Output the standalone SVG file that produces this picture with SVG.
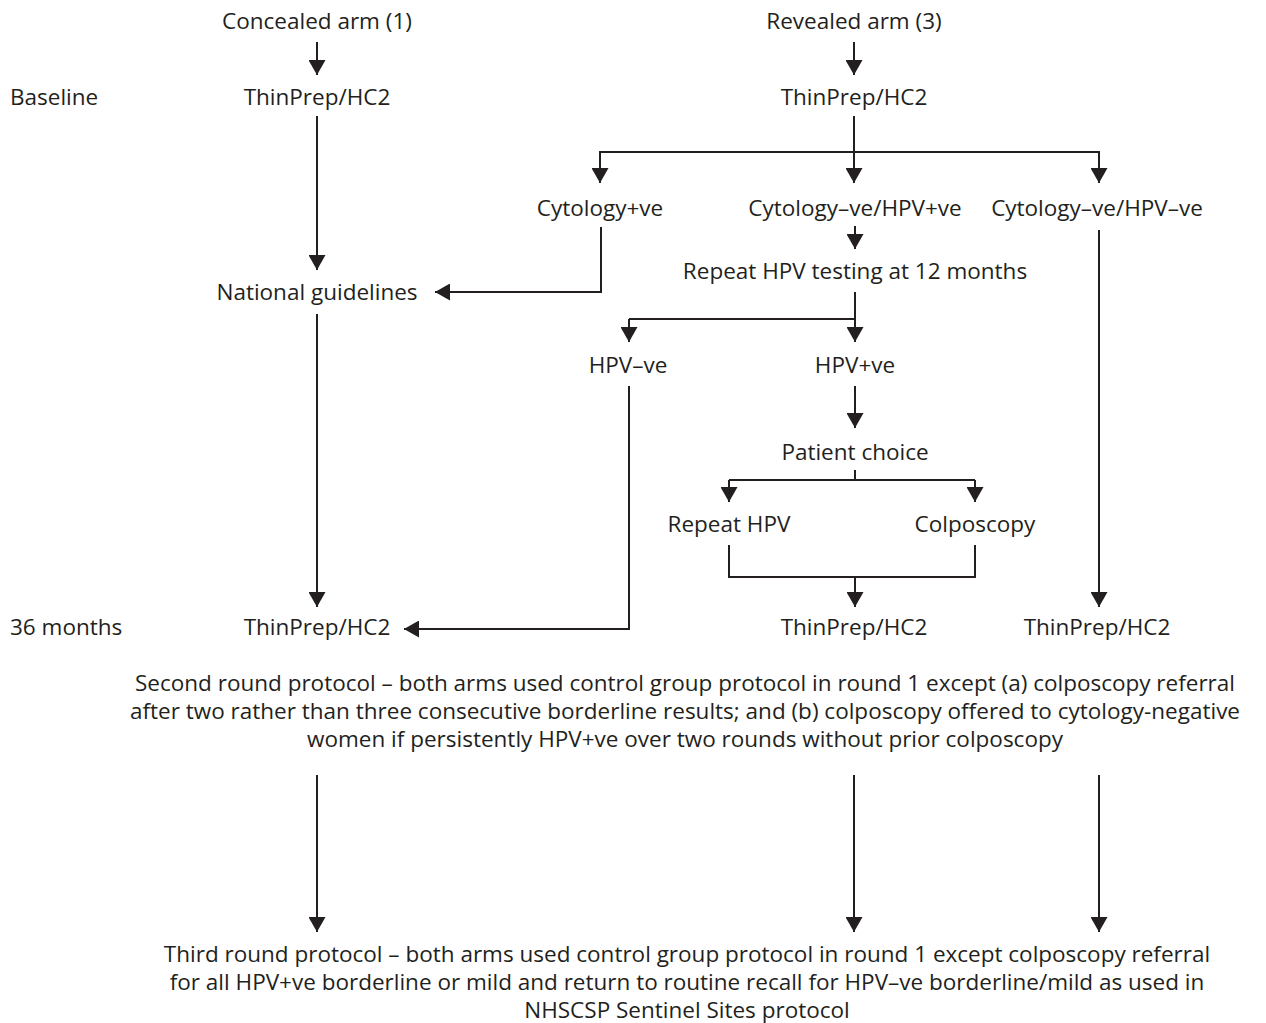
<svg xmlns="http://www.w3.org/2000/svg" width="1266" height="1023" viewBox="0 0 1266 1023">
<defs>
<marker id="ah" markerWidth="15" markerHeight="17" refX="15" refY="8.5" orient="auto" markerUnits="userSpaceOnUse" viewBox="0 0 15 17">
<path d="M0,0 L15,8.5 L0,17 Z" fill="#231f20"/>
</marker>
<style>
text{font-family:"Open Sans","Noto Sans","Liberation Sans",sans-serif;font-size:22.5px;fill:#231f20}
.c{text-anchor:middle}
.ln{fill:none;stroke:#231f20;stroke-width:2}
.ar{fill:none;stroke:#231f20;stroke-width:2;marker-end:url(#ah)}
</style>
</defs>
<rect width="1266" height="1023" fill="#fff"/>
<g id="labels">
<text x="10" y="105">Baseline</text>
<text x="10" y="635">36 months</text>
</g>
<g id="concealed"><text class="c" x="317" y="29">Concealed arm (1)</text></g>
<g id="c_tp1"><text class="c" x="317" y="105">ThinPrep/HC2</text></g>
<g id="national"><text class="c" x="317" y="300">National guidelines</text></g>
<g id="c_tp36"><text class="c" x="317" y="635">ThinPrep/HC2</text></g>
<g id="revealed"><text class="c" x="854" y="29">Revealed arm (3)</text></g>
<g id="r_tp1"><text class="c" x="854" y="105">ThinPrep/HC2</text></g>
<g id="cytpos"><text class="c" x="600" y="216">Cytology+ve</text></g>
<g id="cytneg_hpvpos"><text class="c" x="855" y="216">Cytology–ve/HPV+ve</text></g>
<g id="cytneg_hpvneg"><text class="c" x="1097" y="216">Cytology–ve/HPV–ve</text></g>
<g id="repeat12"><text class="c" x="855" y="279">Repeat HPV testing at 12 months</text></g>
<g id="hpvneg"><text class="c" x="628" y="373">HPV–ve</text></g>
<g id="hpvpos"><text class="c" x="855" y="373">HPV+ve</text></g>
<g id="choice"><text class="c" x="855" y="460">Patient choice</text></g>
<g id="repeathpv"><text class="c" x="729" y="532">Repeat HPV</text></g>
<g id="colpo"><text class="c" x="975" y="532">Colposcopy</text></g>
<g id="r_tp36a"><text class="c" x="854" y="635">ThinPrep/HC2</text></g>
<g id="r_tp36b"><text class="c" x="1097" y="635">ThinPrep/HC2</text></g>
<g id="round2">
<text class="c" x="685" y="691">Second round protocol – both arms used control group protocol in round 1 except (a) colposcopy referral</text>
<text class="c" x="685" y="719">after two rather than three consecutive borderline results; and (b) colposcopy offered to cytology-negative</text>
<text class="c" x="685" y="747">women if persistently HPV+ve over two rounds without prior colposcopy</text>
</g>
<g id="round3">
<text class="c" x="687" y="962">Third round protocol – both arms used control group protocol in round 1 except colposcopy referral</text>
<text class="c" x="687" y="990">for all HPV+ve borderline or mild and return to routine recall for HPV–ve borderline/mild as used in</text>
<text class="c" x="687" y="1018">NHSCSP Sentinel Sites protocol</text>
</g>
<g id="connectors">
<path class="ar" d="M317,42 V75"/>
<path class="ar" d="M317,116 V270"/>
<path class="ar" d="M317,314 V607"/>
<path class="ar" d="M601,227 V292 H435"/>
<path class="ar" d="M629,386 V629 H404"/>
<path class="ar" d="M854,42 V75"/>
<path class="ar" d="M854,116 V183"/>
<path class="ln" d="M600,170 V152 H1099 V170"/>
<path class="ar" d="M600,152 V183"/>
<path class="ar" d="M1099,152 V183"/>
<path class="ar" d="M855,226 V249"/>
<path class="ar" d="M855,292 V342"/>
<path class="ln" d="M855,319 H629"/>
<path class="ar" d="M629,319 V342"/>
<path class="ar" d="M855,386 V428"/>
<path class="ln" d="M855,470 V480 H729 M855,480 H975"/>
<path class="ar" d="M729,480 V502"/>
<path class="ar" d="M975,480 V502"/>
<path class="ln" d="M729,545 V577 H975 V545"/>
<path class="ar" d="M855,577 V607"/>
<path class="ar" d="M1099,230 V607"/>
<path class="ar" d="M317,775 V932"/>
<path class="ar" d="M854,775 V932"/>
<path class="ar" d="M1099,775 V932"/>
</g>
</svg>
